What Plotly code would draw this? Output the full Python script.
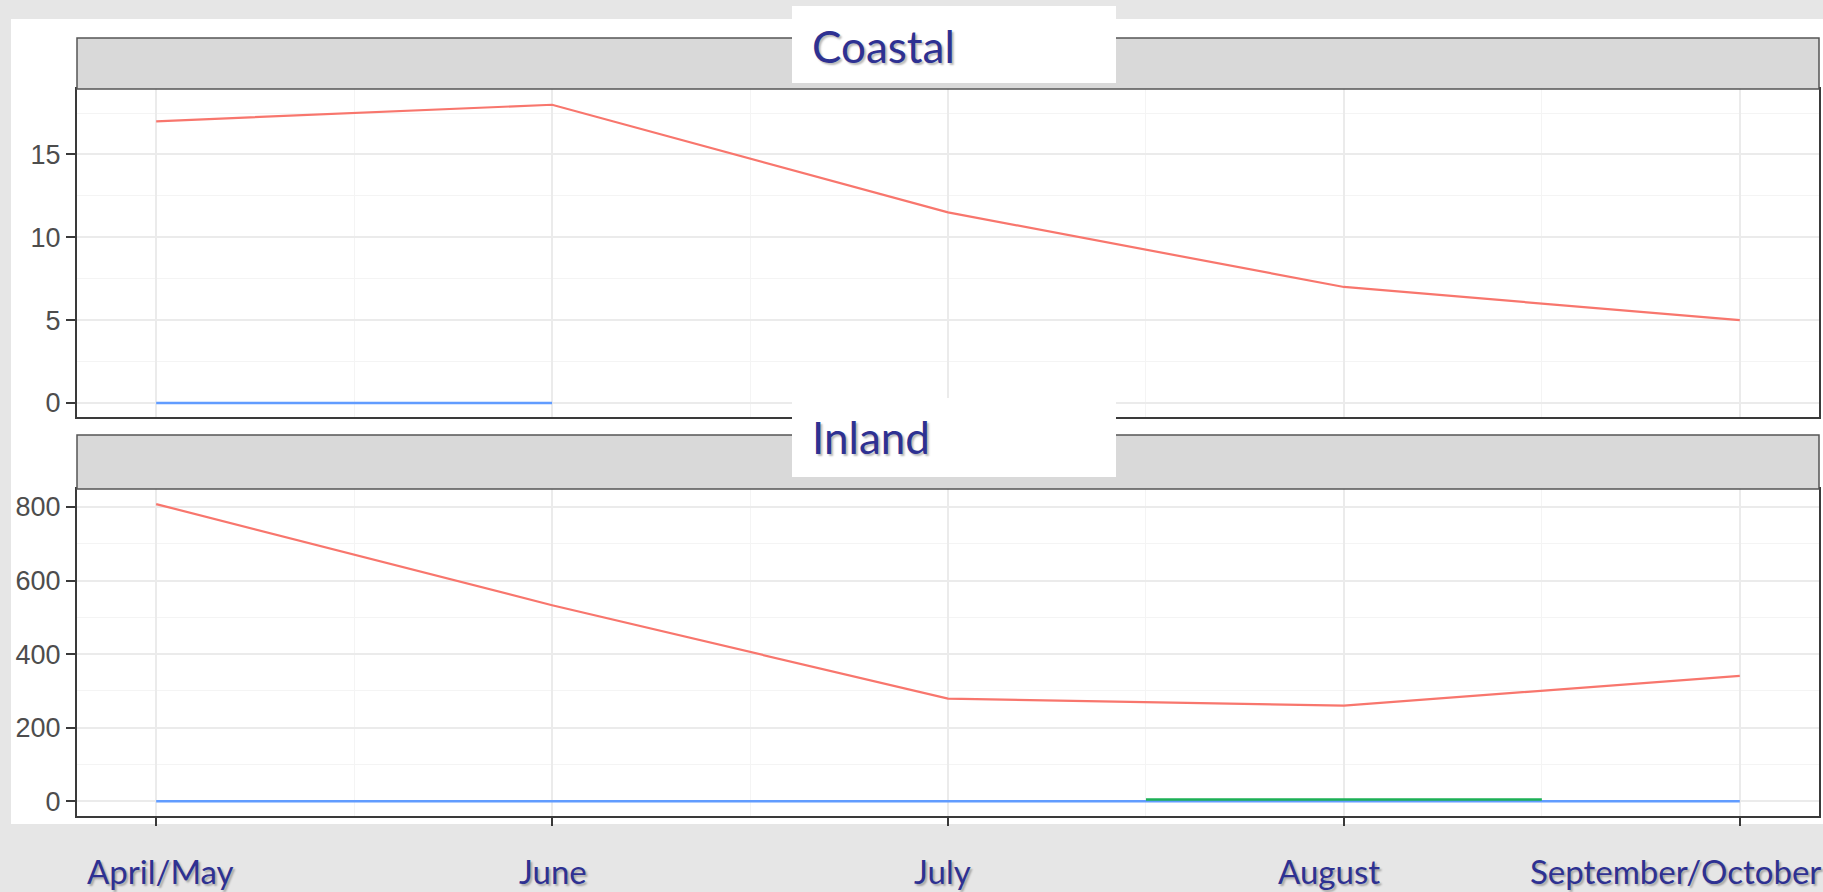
import plotly.graph_objects as go

# ---------------- data ----------------
months = ["April/May", "June", "July", "August", "September/October"]
month_idx = list(range(len(months)))

coastal_red = [17.0, 18.0, 11.5, 7.0, 5.0]
coastal_blue = [0, 0, None, None, None]

inland_red = [808, 533, 279, 260, 341]
inland_blue = [0, 0, 0, 0, 0]
inland_green_x = [2.5, 3.5]
inland_green = [5, 5]

coastal_ticks = [0, 5, 10, 15]
inland_ticks = [0, 200, 400, 600, 800]

panel_titles = ["Coastal", "Inland"]

RED, BLUE, GREEN = "#F8766D", "#619CFF", "#1DB056"
TXT = "#2E3192"
W, H = 1823, 892


def fx(px):
    return px / W


def fy(py):
    return 1 - py / H


fig = go.Figure()

# top panel (Coastal)
fig.add_trace(go.Scatter(x=month_idx, y=coastal_red, mode="lines",
                         line=dict(color=RED, width=2.2), xaxis="x2", yaxis="y2"))
fig.add_trace(go.Scatter(x=month_idx, y=coastal_blue, mode="lines",
                         line=dict(color=BLUE, width=2.5), xaxis="x2", yaxis="y2"))
# bottom panel (Inland)
fig.add_trace(go.Scatter(x=month_idx, y=inland_red, mode="lines",
                         line=dict(color=RED, width=2.2), xaxis="x", yaxis="y"))
fig.add_trace(go.Scatter(x=month_idx, y=inland_blue, mode="lines",
                         line=dict(color=BLUE, width=2.5), xaxis="x", yaxis="y"))
fig.add_trace(go.Scatter(x=inland_green_x, y=inland_green, mode="lines",
                         line=dict(color=GREEN, width=2.5), xaxis="x", yaxis="y"))

xdom = [fx(77), fx(1819)]
top_dom = [fy(417), fy(89)]
bot_dom = [fy(816), fy(489)]

common_x = dict(range=[-0.2, 4.2], domain=xdom, tickmode="array", tickvals=month_idx,
                showgrid=True, gridcolor="#ebebeb", gridwidth=2,
                minor=dict(dtick=0.5, tick0=0, showgrid=True, gridcolor="#f4f4f4", gridwidth=1),
                showline=True, mirror=True, linecolor="#3a3a3a", linewidth=2,
                zeroline=False, showticklabels=False, fixedrange=True)
common_y = dict(showgrid=True, gridcolor="#ebebeb", gridwidth=2,
                showline=True, mirror=True, linecolor="#3a3a3a", linewidth=2,
                zeroline=False, ticks="outside", ticklen=9, tickwidth=2, tickcolor="#3a3a3a",
                tickfont=dict(family="Liberation Sans, Arial", size=27, color="#4d4d4d"),
                tickmode="array")

fig.update_layout(
    width=W, height=H,
    margin=dict(l=0, r=0, t=0, b=0),
    paper_bgcolor="#e6e6e6",
    plot_bgcolor="white",
    showlegend=False,
    xaxis=dict(common_x, anchor="y", ticks="outside", ticklen=8, tickwidth=2,
               tickcolor="#3a3a3a"),
    xaxis2=dict(common_x, anchor="y2", ticks=""),
    yaxis=dict(common_y, domain=bot_dom, range=[-40, 849], tickvals=inland_ticks,
               ticktext=[str(v) for v in inland_ticks], anchor="x",
               minor=dict(dtick=100, tick0=0, showgrid=True, gridcolor="#f4f4f4", gridwidth=1)),
    yaxis2=dict(common_y, domain=top_dom, range=[-0.85, 18.95], tickvals=coastal_ticks,
                ticktext=[str(v) for v in coastal_ticks], anchor="x2",
                minor=dict(dtick=2.5, tick0=0, showgrid=True, gridcolor="#f4f4f4", gridwidth=1)),
)

shapes = []
# white chart background
shapes.append(dict(type="rect", xref="paper", yref="paper", x0=fx(11), x1=1, y0=fy(824), y1=fy(19),
                   fillcolor="white", line=dict(width=0), layer="below"))
# facet strips
for (t, b) in [(38, 89), (435, 489)]:
    shapes.append(dict(type="rect", xref="paper", yref="paper", x0=xdom[0], x1=xdom[1],
                       y0=fy(b), y1=fy(t), fillcolor="#d9d9d9",
                       line=dict(color="#555555", width=1.5), layer="above"))
# white label boxes over the strips
for (t, b) in [(6, 83), (398, 477)]:
    shapes.append(dict(type="rect", xref="paper", yref="paper", x0=fx(792), x1=fx(1116),
                       y0=fy(b), y1=fy(t), fillcolor="white", line=dict(width=0), layer="above"))
fig.update_layout(shapes=shapes)

shadow = "2px 2px 2px rgba(0,0,0,0.28)"
ann = []
for title, cy in zip(panel_titles, [46, 437]):
    ann.append(dict(text=title, xref="paper", yref="paper", x=fx(810), y=fy(cy),
                    xanchor="left", yanchor="middle", showarrow=False,
                    font=dict(family="Lato", size=44, color=TXT, shadow=shadow)))

label_shift = [4, 1, -6, -15]
for i, m in enumerate(months):
    if i < len(months) - 1:
        ann.append(dict(text=m, xref="x", yref="paper", x=month_idx[i], y=fy(871),
                        xanchor="center", yanchor="middle", xshift=label_shift[i],
                        showarrow=False,
                        font=dict(family="Lato", size=33, color=TXT, shadow=shadow)))
    else:
        ann.append(dict(text=m, xref="paper", yref="paper", x=1, y=fy(871),
                        xanchor="right", yanchor="middle", showarrow=False,
                        font=dict(family="Lato", size=33, color=TXT, shadow=shadow)))
fig.update_layout(annotations=ann)

fig.write_html(
    "out.html",
    config={"displayModeBar": False},
    post_script="document.body.style.margin='0';document.body.style.overflow='hidden';"
                "document.body.style.background='#e6e6e6';",
)
